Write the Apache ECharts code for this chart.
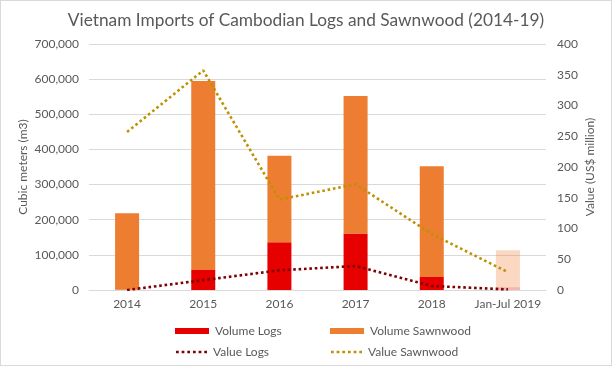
<!DOCTYPE html>
<html><head><meta charset="utf-8">
<script src="https://cdn.jsdelivr.net/npm/echarts@6/dist/echarts.min.js"></script>
<style>
html,body{margin:0;padding:0;background:#fff;}
#c{position:absolute;left:0;top:0;width:610px;height:364px;border:1px solid #d9d9d9;}
</style></head>
<body><div id="c"></div>
<script>
const categories = ['2014','2015','2016','2017','2018','Jan-Jul 2019'];
const volumeLogs = [500, 57000, 136000, 161000, 37000, 8000];
const volumeSawnwood = [218000, 538000, 246000, 391000, 315000, 105000];
const valueLogs = [0, 16, 32, 39, 6.5, 1];
const valueSawnwood = [257, 357, 147, 172, 91, 29];
const leftTicks = {min:0, max:700000, interval:100000};
const rightTicks = {min:0, max:400, interval:50};

const FONT = 'Lato';
const TXT = '#595959';
const fade = (arr, color) => arr.map((v,i) => i === arr.length-1 ? {value:v, itemStyle:{color:color, opacity:0.3}} : v);

const chart = echarts.init(document.getElementById('c'), null, {renderer:'canvas'});
const dotted = {width:2.6, type:[2.6,2.8], cap:'butt'};
const dotIcon = 'path://M0,0h2.6v2.6h-2.6zM5.4,0h2.6v2.6h-2.6zM10.8,0h2.6v2.6h-2.6zM16.2,0h2.6v2.6h-2.6zM21.6,0h2.6v2.6h-2.6zM27,0h2.6v2.6h-2.6z';
function leg(name, left, top, icon){
  return {data:[{name:name, icon:icon}], left:left, top:top, itemWidth: icon==='rect'?34:31, itemHeight: icon==='rect'?6:3, itemGap:0,
    textStyle:{color:TXT, fontFamily:FONT, fontSize:12, padding:[0,0,0,1]}, selectedMode:false};
}
chart.setOption({
  animation:false,
  textStyle:{fontFamily:FONT},
  title:{text:'Vietnam Imports of Cambodian Logs and Sawnwood (2014-19)', left:'center', top:6,
    textStyle:{fontFamily:FONT, fontSize:17.3, fontWeight:'normal', color:TXT}},
  legend:[
    leg('Volume Logs',169,319,'rect'),
    leg('Volume Sawnwood',324,319,'rect'),
    leg('Value Logs',170,340,dotIcon),
    leg('Value Sawnwood',325,340,dotIcon)
  ],
  grid:{left:88, right:65, top:43, bottom:75},
  xAxis:{type:'category', data:categories, boundaryGap:true,
    axisLine:{lineStyle:{color:'#d9d9d9'}}, axisTick:{show:false},
    axisLabel:{color:TXT, fontFamily:FONT, fontSize:12, margin:8, interval:0}},
  yAxis:[
    {type:'value', min:leftTicks.min, max:leftTicks.max, interval:leftTicks.interval,
      name:'Cubic meters (m3)', nameLocation:'middle', nameGap:60, nameRotate:90, nameMoveOverlap:false,
      nameTextStyle:{color:TXT, fontFamily:FONT, fontSize:12},
      axisLine:{show:false}, axisTick:{show:false},
      axisLabel:{color:TXT, fontFamily:FONT, fontSize:12, margin:10, formatter:v=>v.toLocaleString('en-US')},
      splitLine:{lineStyle:{color:'#d9d9d9'}}},
    {type:'value', min:rightTicks.min, max:rightTicks.max, interval:rightTicks.interval,
      name:'Value (US$ million)', nameLocation:'middle', nameGap:38, nameRotate:90, nameMoveOverlap:false,
      nameTextStyle:{color:TXT, fontFamily:FONT, fontSize:12},
      axisLine:{show:false}, axisTick:{show:false},
      axisLabel:{color:TXT, fontFamily:FONT, fontSize:12, margin:11},
      splitLine:{show:false}}
  ],
  series:[
    {name:'Volume Logs', type:'bar', stack:'v', barWidth:24, yAxisIndex:0,
      itemStyle:{color:'#e60000'}, data:fade(volumeLogs,'#e60000')},
    {name:'Volume Sawnwood', type:'bar', stack:'v', barWidth:24, yAxisIndex:0,
      itemStyle:{color:'#ed7d31'}, data:fade(volumeSawnwood,'#ed7d31')},
    {name:'Value Logs', type:'line', yAxisIndex:1, symbol:'none', z:5,
      lineStyle:Object.assign({color:'#7f0000'},dotted), itemStyle:{color:'#7f0000'}, data:valueLogs},
    {name:'Value Sawnwood', type:'line', yAxisIndex:1, symbol:'none', z:5,
      lineStyle:Object.assign({color:'#bf9000'},dotted), itemStyle:{color:'#bf9000'}, data:valueSawnwood}
  ]
});
</script></body></html>
